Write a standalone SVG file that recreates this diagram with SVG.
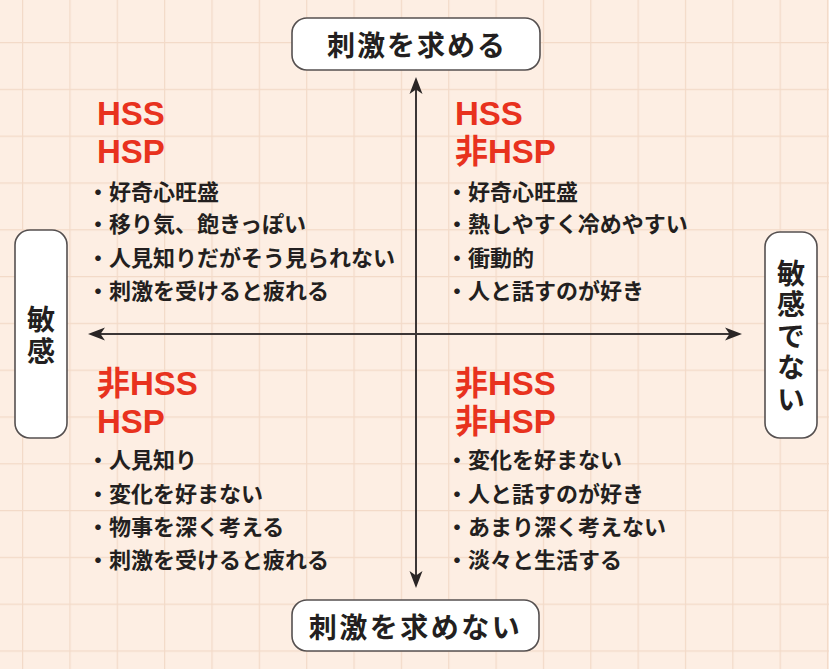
<svg xmlns="http://www.w3.org/2000/svg" width="829" height="669" viewBox="0 0 829 669">
<style>
.box{fill:#ffffff;stroke:#555050;stroke-width:1.6}
.lbl{font-family:"Noto Sans CJK JP","Noto Sans CJK SC",sans-serif;font-size:28px;font-weight:600;fill:#231f20}
.vlbl{writing-mode:vertical-rl;text-orientation:upright}
.head{font-family:"Liberation Sans","Noto Sans CJK JP",sans-serif;font-size:33px;font-weight:bold;fill:#e8321e}
.item{font-family:"Noto Sans CJK JP","Noto Sans CJK SC",sans-serif;font-size:22px;font-weight:600;fill:#231f20}
.axis{stroke:#3c3636;stroke-width:2;fill:none}
</style>
<defs>
<pattern id="grid" patternUnits="userSpaceOnUse" x="22" y="42" width="47.35" height="46.8">
<rect width="47.35" height="46.8" fill="#fdeee3"/>
<path d="M0,0 V46.8 M0,0 H47.35" stroke="#f3dac8" stroke-width="2.4" fill="none"/>
</pattern>
<marker id="arr" viewBox="-14 -8 20 16" refX="0" refY="0" markerWidth="20" markerHeight="16" markerUnits="userSpaceOnUse" orient="auto-start-reverse">
<path d="M4,0 L-13,-6.5 L-8.5,0 L-13,6.5 Z" fill="#2a2525"/>
</marker>
</defs>
<rect width="829" height="669" fill="url(#grid)"/>
<g id="connectors">
<line class="axis" x1="416" y1="81" x2="416" y2="584" marker-start="url(#arr)" marker-end="url(#arr)"/>
<line class="axis" x1="92" y1="334" x2="738" y2="334" marker-start="url(#arr)" marker-end="url(#arr)"/>
</g>
<g id="top">
<rect class="box" x="292" y="18" width="248" height="52" rx="15"/>
<text class="lbl" x="417" y="55.5" text-anchor="middle" letter-spacing="2">刺激を求める</text>
</g>
<g id="bottom">
<rect class="box" x="292" y="600" width="247" height="51" rx="15"/>
<text class="lbl" x="415.5" y="638" text-anchor="middle" letter-spacing="2.5">刺激を求めない</text>
</g>
<g id="left">
<rect class="box" x="15" y="230" width="52" height="208" rx="15"/>
<text class="lbl vlbl" x="41" y="305" letter-spacing="4">敏感</text>
</g>
<g id="right">
<rect class="box" x="765" y="232" width="52" height="206" rx="15"/>
<text class="lbl vlbl" x="791" y="259" letter-spacing="3.5">敏感でない</text>
</g>
<g id="q-top-left">
<text class="head" x="97" y="125">HSS</text>
<text class="head" x="97" y="163">HSP</text>
<text class="item" x="87" y="200">・好奇心旺盛</text>
<text class="item" x="87" y="232">・移り気、飽きっぽい</text>
<text class="item" x="87" y="266">・人見知りだがそう見られない</text>
<text class="item" x="87" y="299">・刺激を受けると疲れる</text>
</g>
<g id="q-top-right">
<text class="head" x="455" y="125">HSS</text>
<text class="head" x="455" y="163">非HSP</text>
<text class="item" x="446" y="200">・好奇心旺盛</text>
<text class="item" x="446" y="232">・熱しやすく冷めやすい</text>
<text class="item" x="446" y="266">・衝動的</text>
<text class="item" x="446" y="299">・人と話すのが好き</text>
</g>
<g id="q-bottom-left">
<text class="head" x="97" y="395">非HSS</text>
<text class="head" x="97" y="433">HSP</text>
<text class="item" x="87" y="468">・人見知り</text>
<text class="item" x="87" y="502">・変化を好まない</text>
<text class="item" x="87" y="535">・物事を深く考える</text>
<text class="item" x="87" y="568">・刺激を受けると疲れる</text>
</g>
<g id="q-bottom-right">
<text class="head" x="455" y="395">非HSS</text>
<text class="head" x="455" y="433">非HSP</text>
<text class="item" x="446" y="468">・変化を好まない</text>
<text class="item" x="446" y="502">・人と話すのが好き</text>
<text class="item" x="446" y="535">・あまり深く考えない</text>
<text class="item" x="446" y="568">・淡々と生活する</text>
</g>
</svg>
